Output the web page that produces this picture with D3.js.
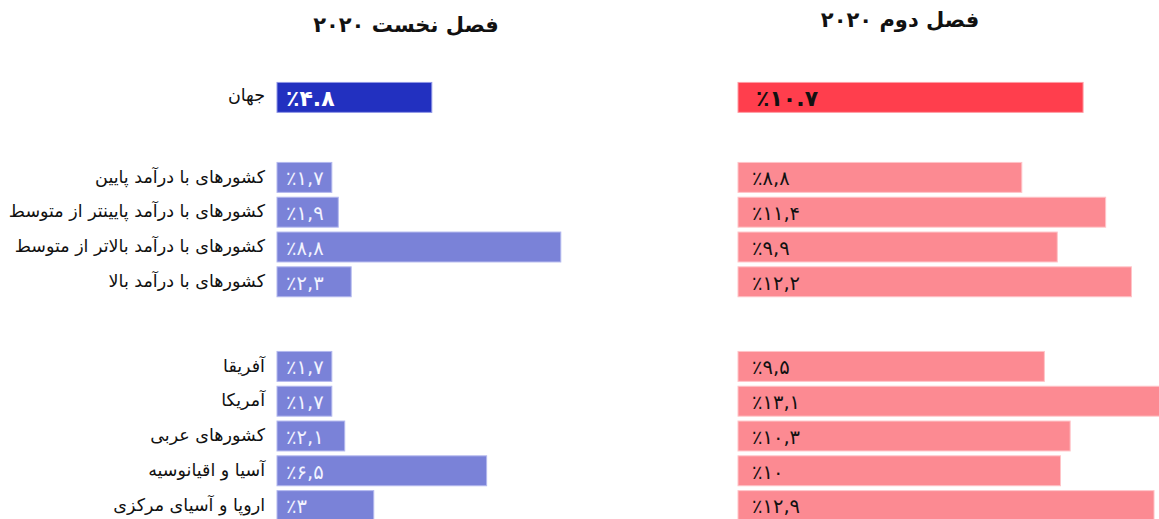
<!DOCTYPE html>
<html>
<head>
<meta charset="utf-8">
<script src="https://cdn.jsdelivr.net/npm/d3@7"></script>
<style>
  html, body { margin: 0; padding: 0; background: #fff; }
  svg { display: block; }
</style>
</head>
<body>
<div id="chart"></div>
<script>
const titles = ['فصل نخست ۲۰۲۰', 'فصل دوم ۲۰۲۰'];

const worldLabel = ['جهان'];
const worldQ1 = [4.8];
const worldQ2 = [10.7];

const incomeLabels = [
  'کشورهای با درآمد پایین',
  'کشورهای با درآمد پایینتر از متوسط',
  'کشورهای با درآمد بالاتر از متوسط',
  'کشورهای با درآمد بالا',
];
const incomeQ1 = [1.7, 1.9, 8.8, 2.3];
const incomeQ2 = [8.8, 11.4, 9.9, 12.2];

const regionLabels = [
  'آفریقا',
  'آمریکا',
  'کشورهای عربی',
  'آسیا و اقیانوسیه',
  'اروپا و آسیای مرکزی',
];
const regionQ1 = [1.7, 1.7, 2.1, 6.5, 3];
const regionQ2 = [9.5, 13.1, 10.3, 10, 12.9];

const width = 1159;
const height = 519;
const font = "'DejaVu Sans', sans-serif";

const faDigits = '۰۱۲۳۴۵۶۷۸۹';
const toFa = (v, sep) => '٪' + String(v).split('').map((c) => (c === '.' ? sep : faDigits[+c])).join('');

const x = d3.scaleLinear().domain([0, 10]).range([0, 322.5]);
const panels = [
  { x0: 277, key: 'q1' },
  { x0: 738, key: 'q2' },
];

const blocks = [
  { top: 80, labels: worldLabel, q1: worldQ1, q2: worldQ2, world: true },
  { top: 160, labels: incomeLabels, q1: incomeQ1, q2: incomeQ2 },
  { top: 349, labels: regionLabels, q1: regionQ1, q2: regionQ2 },
];

const svg = d3.select('#chart')
  .append('svg')
  .attr('width', width)
  .attr('height', height)
  .attr('font-family', font);

svg.append('g')
  .selectAll('text')
  .data(titles)
  .join('text')
  .attr('x', (d, i) => (i === 0 ? 406 : 900))
  .attr('y', (d, i) => (i === 0 ? 32 : 27))
  .attr('text-anchor', 'middle')
  .attr('font-size', 21)
  .attr('font-weight', 'bold')
  .attr('fill', '#111')
  .style('direction', 'rtl')
  .text((d) => d);

blocks.forEach((b) => {
  const y = d3.scaleBand()
    .domain(b.labels)
    .range([b.top, b.top + 34.8 * b.labels.length])
    .paddingInner(0.14)
    .paddingOuter(0.07);

  const g = svg.append('g');

  g.selectAll('text.cat')
    .data(b.labels)
    .join('text')
    .attr('class', 'cat')
    .attr('x', 265)
    .attr('y', (d) => y(d) + y.bandwidth() / 2 - (b.world ? 3 : 1))
    .attr('dy', '0.35em')
    .attr('text-anchor', 'end')
    .attr('font-size', 17.5)
    .attr('fill', '#111')
    .text((d) => d);

  panels.forEach((p, pi) => {
    const vals = b[p.key];
    const fill = pi === 0 ? (b.world ? '#2230c0' : '#7a82d8') : (b.world ? '#ff3e4d' : '#fc8a92');
    const stroke = pi === 0 ? (b.world ? '#8f96e6' : '#b3b8ee') : (b.world ? '#ff9ca4' : '#ffc4c8');

    g.selectAll(`rect.p${pi}`)
      .data(vals)
      .join('rect')
      .attr('class', `p${pi}`)
      .attr('x', p.x0)
      .attr('y', (d, i) => y(b.labels[i]))
      .attr('width', (d) => x(d))
      .attr('height', y.bandwidth())
      .attr('fill', fill)
      .attr('stroke', stroke)
      .attr('stroke-width', 1);

    g.selectAll(`text.v${pi}`)
      .data(vals)
      .join('text')
      .attr('class', `v${pi}`)
      .attr('x', p.x0 + (pi === 0 ? 9 : (b.world ? 18 : 14)))
      .attr('y', (d, i) => y(b.labels[i]) + y.bandwidth() / 2 + 1)
      .attr('dy', '0.35em')
      .attr('font-size', b.world ? 22 : 19.5)
      .attr('font-weight', b.world ? 'bold' : 'normal')
      .attr('fill', pi === 0 ? (b.world ? '#ffffff' : '#f2f3ff') : '#111')
      .style('direction', 'ltr')
      .style('unicode-bidi', 'bidi-override')
      .text((d) => toFa(d, b.world ? '.' : ','));
  });
});
</script>
</body>
</html>
